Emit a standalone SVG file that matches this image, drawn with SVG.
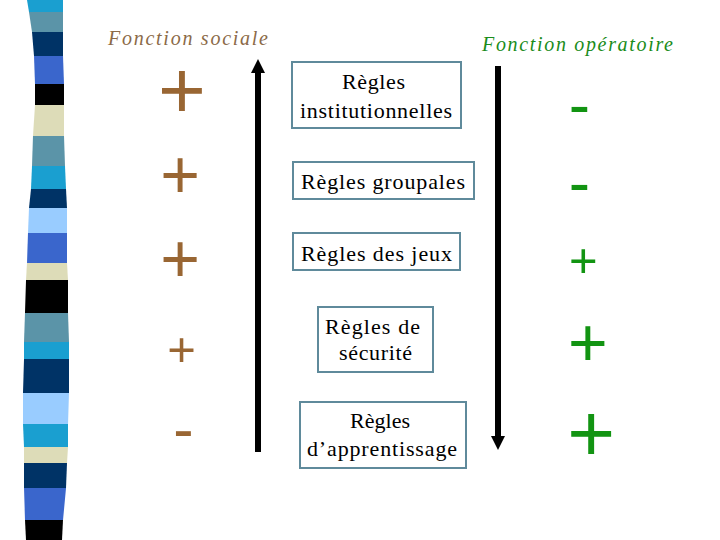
<svg xmlns="http://www.w3.org/2000/svg" width="720" height="540" viewBox="0 0 720 540">
  <style>
    .box { fill: #ffffff; stroke: #5f8a9b; stroke-width: 2; }
    .lbl { font-family: "Liberation Serif", "Times New Roman", serif; font-size: 22px; fill: #000000; }
    .title { font-family: "Liberation Serif", "Times New Roman", serif; font-size: 20px; font-style: italic; }
    .soc { fill: #8b6a47; }
    .op { fill: #1a8c1a; }
    .sign { font-family: "Liberation Sans", Arial, sans-serif; text-anchor: middle; }
    .brown { fill: #996633; }
    .green { fill: #129412; }
    .shaft { stroke: #000000; stroke-width: 6; fill: none; }
  </style>
  <defs>
    <marker id="head" viewBox="0 0 14 14" markerWidth="14" markerHeight="14" markerUnits="userSpaceOnUse" refX="0" refY="7" orient="auto">
      <path d="M0,0 L14,7 L0,14 z" fill="#000000"/>
    </marker>
  </defs>
  <rect x="0" y="0" width="720" height="540" fill="#ffffff"/>

  <g id="stripe-bar">
    <polygon points="27,0 63,0 63,12 29,12" fill="#1a9fd0"/>
    <polygon points="29,12 63,12 63,32 32,32" fill="#5b94a8"/>
    <polygon points="32,32 63,32 63,56 34,56" fill="#003366"/>
    <polygon points="34,56 63,56 64,84 35,84" fill="#3a66cc"/>
    <polygon points="35,84 64,84 64,105 35,105" fill="#000000"/>
    <polygon points="35,105 64,105 64,136 33,136" fill="#dddcb8"/>
    <polygon points="33,136 64,136 65,166 32,166" fill="#5b94a8"/>
    <polygon points="32,166 65,166 66,189 31,189" fill="#1a9fd0"/>
    <polygon points="31,189 66,189 67,208 29,208" fill="#003366"/>
    <polygon points="29,208 67,208 67,233 28,233" fill="#99ccff"/>
    <polygon points="28,233 67,233 67,263 27,263" fill="#3a66cc"/>
    <polygon points="27,263 67,263 68,280 26,280" fill="#dddcb8"/>
    <polygon points="26,280 68,280 68,313 25,313" fill="#000000"/>
    <polygon points="25,313 68,313 69,342 24,342" fill="#5b94a8"/>
    <polygon points="24,342 69,342 69,359 24,359" fill="#1a9fd0"/>
    <polygon points="24,359 69,359 69,393 23,393" fill="#003366"/>
    <polygon points="23,393 69,393 68,424 23,424" fill="#99ccff"/>
    <polygon points="23,424 68,424 68,447 24,447" fill="#1a9fd0"/>
    <polygon points="24,447 68,447 67,463 24,463" fill="#dddcb8"/>
    <polygon points="24,463 67,463 66,488 24,488" fill="#003366"/>
    <polygon points="24,488 66,488 63,520 25,520" fill="#3a66cc"/>
    <polygon points="25,520 63,520 62,540 26,540" fill="#000000"/>
  </g>

  <g id="titles">
    <text id="title-sociale" class="title soc" x="108" y="45" textLength="160" lengthAdjust="spacing">Fonction sociale</text>
    <text id="title-operatoire" class="title op" x="482" y="51" textLength="191" lengthAdjust="spacing">Fonction opératoire</text>
  </g>

  <g id="connectors">
    <line id="arrow-up" class="shaft" x1="258" y1="452" x2="258" y2="73" marker-end="url(#head)"/>
    <line id="arrow-down" class="shaft" x1="498" y1="66" x2="498" y2="436" marker-end="url(#head)"/>
  </g>

  <g id="node-institutionnelles">
    <rect class="box" x="292" y="62" width="169" height="66"/>
    <text class="lbl" x="342" y="89" textLength="63" lengthAdjust="spacing">Règles</text>
    <text class="lbl" x="300" y="118" textLength="152" lengthAdjust="spacing">institutionnelles</text>
  </g>
  <g id="node-groupales">
    <rect class="box" x="293" y="162" width="181" height="37"/>
    <text class="lbl" x="301" y="189" textLength="164" lengthAdjust="spacing">Règles groupales</text>
  </g>
  <g id="node-jeux">
    <rect class="box" x="293" y="233" width="167" height="37"/>
    <text class="lbl" x="301" y="261" textLength="151" lengthAdjust="spacing">Règles des jeux</text>
  </g>
  <g id="node-securite">
    <rect class="box" x="318" y="307" width="115" height="65"/>
    <text class="lbl" x="325" y="334" textLength="95" lengthAdjust="spacing">Règles de</text>
    <text class="lbl" x="339" y="360" textLength="73" lengthAdjust="spacing">sécurité</text>
  </g>
  <g id="node-apprentissage">
    <rect class="box" x="300" y="402" width="166" height="66"/>
    <text class="lbl" x="350" y="428" textLength="60" lengthAdjust="spacing">Règles</text>
    <text class="lbl" x="307" y="456" textLength="150" lengthAdjust="spacing">d’apprentissage</text>
  </g>

  <g id="signs-sociale">
    <text class="sign brown" x="182" y="118" font-size="82">+</text>
    <text class="sign brown" x="180" y="198" font-size="68">+</text>
    <text class="sign brown" x="180" y="282" font-size="68">+</text>
    <text class="sign brown" x="181.5" y="366" font-size="49">+</text>
    <text class="sign brown" x="183.5" y="450" font-size="61">-</text>
  </g>
  <g id="signs-operatoire">
    <text class="sign green" x="579.5" y="127" font-size="64">-</text>
    <text class="sign green" x="579.5" y="205" font-size="64">-</text>
    <text class="sign green" x="583.3" y="276.5" font-size="49">+</text>
    <text class="sign green" x="587.8" y="365.5" font-size="68">+</text>
    <text class="sign green" x="591.2" y="461" font-size="82">+</text>
  </g>
</svg>
